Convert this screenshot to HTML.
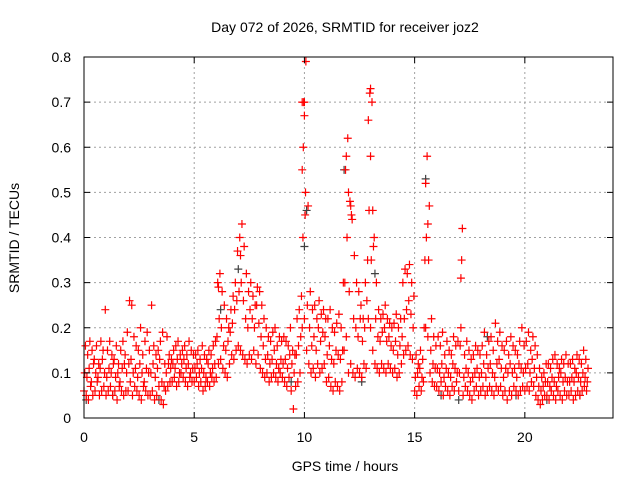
<!DOCTYPE html>
<html><head><meta charset="utf-8"><style>
body{margin:0;background:#fff}
svg{display:block;font-family:"Liberation Sans",sans-serif}
</style></head><body>
<svg id="chart" width="640" height="480">
<rect x="0" y="0" width="640" height="480" fill="#fff"/>
<text x="345" y="32" font-size="14" text-anchor="middle">Day 072 of 2026, SRMTID for receiver joz2</text>
<text x="345" y="471" font-size="14" text-anchor="middle">GPS time / hours</text>
<text x="19" y="238" font-size="14" text-anchor="middle" transform="rotate(-90 19 238)">SRMTID / TECUs</text>
<g id="grid"></g><g id="marks"></g><g id="axes"></g>
</svg>
<script>
const xTicks=[0,5,10,15,20];
const yTicks=[0,0.1,0.2,0.3,0.4,0.5,0.6,0.7,0.8];
const yTickLabels=["0","0.1","0.2","0.3","0.4","0.5","0.6","0.7","0.8"];
const lo=[.06,.05,.04,.07,.05,.06,.08,.05,.06,.07,
.05,.06,.07,.05,.06,.04,.07,.06,.05,.06,
.06,.08,.05,.07,.06,.05,.04,.07,.06,.05,
.05,.06,.04,.05,.07,.04,.03,.06,.07,.08,
.08,.09,.07,.08,.10,.09,.08,.07,.09,.08,
.08,.09,.07,.08,.06,.07,.08,.07,.09,.08,
.09,.12,.13,.11,.10,.09,.12,.14,.13,.15,
.16,.15,.14,.13,.12,.14,.13,.15,.12,.14,
.11,.10,.09,.10,.08,.09,.10,.09,.08,.10,
.09,.08,.07,.09,.06,.02,.07,.08,.10,.20,
.22,.15,.12,.10,.11,.09,.12,.10,.11,.12,
.08,.09,.07,.06,.08,.07,.06,.08,.15,.18,
.10,.12,.10,.09,.11,.10,.09,.12,.11,.22,
.20,.15,.12,.11,.10,.12,.11,.10,.12,.11,
.10,.11,.09,.10,.12,.14,.15,.16,.14,.13,
.06,.05,.07,.06,.08,.20,.18,.10,.08,.07,
.07,.06,.08,.05,.07,.06,.05,.07,.06,.08,
.06,.20,.05,.07,.06,.05,.04,.06,.07,.05,
.06,.07,.05,.06,.07,.06,.05,.07,.06,.07,
.05,.06,.04,.06,.05,.07,.06,.05,.06,.07,
.06,.07,.06,.08,.07,.05,.04,.03,.04,.05,
.05,.04,.06,.05,.04,.06,.05,.04,.06,.05,
.05,.06,.04,.05,.06,.05,.06,.07,.06];
const mid=[.10,.09,.11,.08,.12,.10,.09,.11,.13,.10,
.09,.11,.10,.12,.09,.10,.08,.11,.12,.10,
.12,.13,.10,.11,.09,.12,.10,.08,.11,.10,
.10,.12,.09,.11,.13,.08,.07,.10,.12,.11,
.12,.11,.13,.10,.12,.13,.11,.12,.10,.11,
.11,.12,.10,.11,.10,.09,.12,.10,.11,.12,
.18,.22,.20,.16,.15,.17,.19,.21,.24,.26,
.28,.30,.26,.22,.20,.24,.22,.20,.25,.21,
.18,.16,.13,.14,.12,.13,.15,.12,.11,.13,
.12,.13,.11,.14,.12,.10,.14,.16,.18,.40,
.45,.25,.20,.16,.18,.15,.20,.17,.19,.18,
.14,.16,.13,.12,.15,.14,.13,.15,.30,.40,
.28,.45,.22,.20,.18,.22,.17,.20,.26,.46,
.35,.38,.22,.18,.17,.19,.20,.17,.18,.16,
.15,.17,.14,.16,.18,.22,.24,.26,.23,.20,
.09,.10,.11,.09,.20,.40,.35,.15,.12,.11,
.11,.10,.12,.09,.11,.10,.09,.12,.11,.10,
.10,.35,.09,.11,.10,.08,.09,.10,.11,.09,
.10,.12,.09,.11,.12,.10,.09,.12,.13,.11,
.09,.11,.10,.12,.10,.11,.09,.12,.11,.10,
.11,.12,.10,.13,.11,.09,.07,.06,.07,.08,
.08,.07,.09,.08,.07,.09,.10,.08,.09,.08,
.08,.09,.08,.10,.09,.08,.10,.09,.08];
const hi=[.16,.14,.17,.15,.13,.16,.12,.17,.15,.24,
.15,.17,.14,.13,.16,.12,.15,.17,.14,.19,
.26,.25,.18,.16,.15,.20,.14,.17,.19,.15,
.25,.16,.14,.15,.17,.19,.12,.18,.14,.13,
.15,.16,.17,.14,.15,.16,.14,.17,.15,.14,
.14,.15,.13,.16,.14,.13,.15,.14,.16,.17,
.30,.32,.28,.25,.22,.20,.24,.27,.30,.37,
.40,.43,.38,.32,.28,.30,.27,.25,.29,.28,
.25,.22,.20,.18,.17,.19,.20,.16,.18,.17,
.18,.17,.16,.20,.15,.14,.22,.24,.27,.70,
.79,.47,.28,.24,.25,.22,.26,.23,.24,.22,
.22,.24,.20,.19,.21,.23,.20,.30,.55,.62,
.48,.44,.36,.30,.28,.25,.22,.30,.35,.72,
.70,.40,.30,.24,.22,.23,.25,.22,.21,.20,
.21,.23,.20,.22,.30,.33,.32,.34,.30,.27,
.14,.12,.15,.13,.35,.58,.47,.22,.18,.16,
.18,.16,.19,.14,.17,.15,.14,.18,.16,.17,
.16,.42,.14,.17,.15,.13,.14,.16,.15,.14,
.16,.19,.14,.17,.18,.15,.21,.17,.19,.16,
.15,.17,.14,.18,.16,.15,.14,.17,.20,.16,
.17,.19,.15,.18,.16,.14,.11,.09,.10,.12,
.12,.11,.13,.14,.12,.11,.13,.12,.14,.12,
.12,.13,.11,.14,.13,.12,.15,.13,.11];
const spikeTimes=[10.0,10.0,9.95,10.05,9.9,11.9,12.0,12.1,12.9,13.0,13.1,15.5,15.6,17.1,7.1,6.1,9.9,13.0];
const spikeValues=[0.70,0.67,0.60,0.50,0.55,0.58,0.50,0.47,0.66,0.58,0.46,0.52,0.43,0.31,0.36,0.29,0.70,0.73];
const grayTimes=[0.1,1.3,3.4,6.2,7.0,9.4,10.0,10.1,11.8,12.6,13.2,15.5,16.2,17.0,18.3,19.6,21.0,22.5];
const grayValues=[0.04,0.05,0.04,0.24,0.33,0.08,0.38,0.46,0.55,0.08,0.32,0.53,0.05,0.04,0.18,0.05,0.04,0.05];

const X0=84,X1=613,Y0=418,Y1=57,XMAX=24,YMAX=0.8;
const xs=v=>X0+(X1-X0)*v/XMAX;
const ys=v=>Y0-(Y0-Y1)*v/YMAX;
const NS="http://www.w3.org/2000/svg";
const grid=document.getElementById('grid'),marks=document.getElementById('marks'),axes=document.getElementById('axes');
function mk(tag,attrs,parent){const e=document.createElementNS(NS,tag);for(const k in attrs)e.setAttribute(k,attrs[k]);parent.appendChild(e);return e;}

xTicks.forEach((t,i)=>{
  const x=xs(t);
  if(i>0){const g=mk('line',{x1:x,x2:x,y1:Y1,y2:Y0,stroke:'#a0a0a0','stroke-dasharray':'2,3'},grid);
  
  }
  const tk=mk('path',{d:`M${x},${Y0}v-6M${x},${Y1}v6`,stroke:'#000'},axes);
  
  
  const lb=mk('text',{x:x,y:Y0+24,'font-size':14,'text-anchor':'middle'},axes);
  lb.textContent=String(t);
  
  
});
yTicks.forEach((v,i)=>{
  const y=ys(v);
  if(i>0&&i<yTicks.length-1){const g=mk('line',{x1:X0,x2:X1,y1:y,y2:y,stroke:'#a0a0a0','stroke-dasharray':'2,3'},grid);
  
  }
  const tk=mk('path',{d:`M${X0},${y}h6M${X1},${y}h-6`,stroke:'#000'},axes);
  
  
  const lb=mk('text',{x:X0-13,y:y+5,'font-size':14,'text-anchor':'end'},axes);
  lb.textContent=yTickLabels[i];
  
  
});
const frame=mk('rect',{x:X0,y:Y1,width:X1-X0,height:Y0-Y1,fill:'none',stroke:'#000'},axes);



function plus(t,v,color,name){
  const x=xs(t),y=ys(v);
  const p=mk('path',{d:`M${x-4},${y}h8M${x},${y-4}v8`,stroke:color,'stroke-width':1.2},marks);
  
  
}
grayTimes.forEach((t,i)=>plus(t,grayValues[i],'#404040','gray-point'));
lo.forEach((v,i)=>plus(i*0.1,v,'#ff0000','red-point'));
mid.forEach((v,i)=>plus(i*0.1+0.033,v,'#ff0000','red-point'));
hi.forEach((v,i)=>plus(i*0.1+0.066,v,'#ff0000','red-point'));
spikeTimes.forEach((t,i)=>plus(t,spikeValues[i],'#ff0000','red-spike-point'));
</script>
</body></html>
